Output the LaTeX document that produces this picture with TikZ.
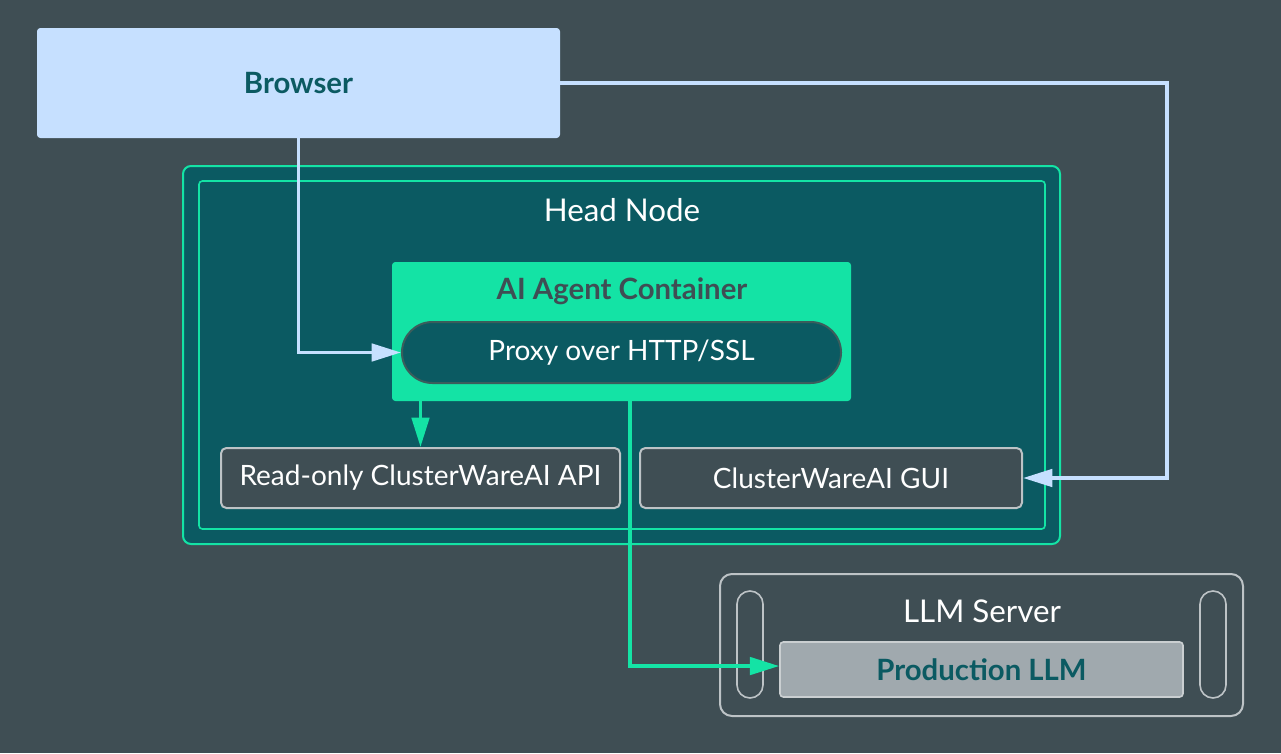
\documentclass[tikz,border=0pt]{standalone}
\usepackage{xcolor}
\usepackage{fontspec}
\setmainfont{Lato}
\usepackage{tikz}
\usetikzlibrary{arrows.meta}

\definecolor{slate}{HTML}{3F4E54}
\definecolor{teal}{HTML}{0B5A62}
\definecolor{mint}{HTML}{14E3A5}
\definecolor{sky}{HTML}{C6E0FF}
\definecolor{pebble}{HTML}{A0A9AE}
\definecolor{rim}{HTML}{BDC3C6}

\begin{document}
\begin{tikzpicture}[
    x=0.75pt, y=-0.75pt,
    box/.style={rounded corners=2.5pt, minimum width=#1, inner sep=0pt, align=center, font=\fontsize{21}{24}\selectfont},
    strong/.style={font=\fontsize{22}{25}\selectfont\bfseries},
    service/.style={box=#1, draw=rim, line width=1.5pt, fill=slate, text=white, minimum height=45pt, rounded corners=4pt},
    title/.style={text=white, font=\fontsize{23.5}{27}\selectfont},
    arr/.style={line width=2.8pt, -{Triangle[length=22pt, width=13pt]}},
    rail/.style={draw=rim, line width=1.2pt, rounded corners=9.75pt, minimum width=19.5pt, minimum height=80.25pt}
]
    \fill[slate] (0,0) rectangle (1281,753);
    \useasboundingbox (0,0) rectangle (1281,753);

    \node[box=392.25pt, minimum height=82.5pt, fill=sky, text=teal, strong] (browser) at (298.5,83) {Browser};

    \node[box=657.75pt, minimum height=283.5pt, draw=mint, line width=1.5pt, fill=teal, rounded corners=6pt] (headouter) at (621.5,355) {};
    \node[box=634.5pt, minimum height=261pt, draw=mint, line width=1.2pt] (headinner) at (622,355) {};
    \node[title] (headlbl) at (622,210) {Head Node};

    \node[box=344.25pt, minimum height=104.25pt, fill=mint] (agent) at (621.5,331.5) {};
    \node[text=slate, strong] (agentlbl) at (622,291) {AI Agent Container};
    \node[box=329.25pt, minimum height=45.75pt, fill=teal, draw=slate!90!mint, line width=1.5pt, rounded corners=22.8pt, text=white] (proxy) at (621.5,352.5) {Proxy over HTTP/SSL};

    \node[service=299.25pt] (api) at (420.5,478) {Read-only ClusterWareAI API};
    \node[service=286.5pt] (gui) at (831,478) {ClusterWareAI GUI};

    \node[box=392.25pt, minimum height=106.5pt, draw=rim, line width=1.5pt, rounded corners=9pt] (llmserver) at (981.5,645) {};
    \node[title] (llmlbl) at (982,611) {LLM Server};
    \node[rail] (railleft) at (750,644.5) {};
    \node[rail] (railright) at (1213,644.5) {};
    \node[box=302.25pt, minimum height=41.25pt, fill=pebble, draw=rim!80!white, line width=1.2pt, text=teal, strong] (prodllm) at (981.5,669.5) {Production LLM};

    \draw[arr, sky] (browser.south) |- (proxy.west);
    \draw[arr, sky] (browser.east) -- ++(607,0) |- (gui.east);
    \draw[arr, mint] (api.north |- agent.south) -- (api.north);
    \draw[arr, mint] ([xshift=6.4pt]agent.south) |- ([yshift=2.6pt]prodllm.west);
\end{tikzpicture}
\end{document}
